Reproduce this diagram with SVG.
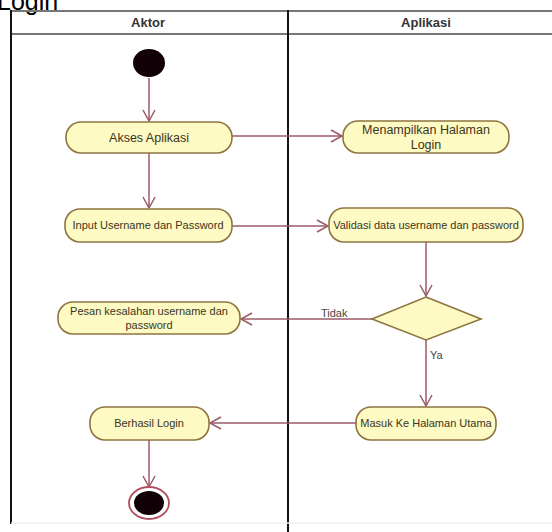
<svg xmlns="http://www.w3.org/2000/svg" width="552" height="532" viewBox="0 0 552 532">
<defs>
<style>
.node{fill:#fefac4;stroke:#8d7440;stroke-width:1.6}
.lbl{font-family:"Liberation Sans",Arial,sans-serif;font-size:11px;fill:#3b3520;text-anchor:middle}
.big{font-size:12.5px}
.hdr{font-family:"Liberation Sans",Arial,sans-serif;font-size:13px;font-weight:bold;fill:#333;text-anchor:middle}
.edge{fill:none;stroke:#9a5a68;stroke-width:1.5;marker-end:url(#arr)}
.frame{stroke:#777;stroke-width:2;fill:none}
</style>
<marker id="arr" markerWidth="14" markerHeight="14" refX="12" refY="7" orient="auto" markerUnits="userSpaceOnUse">
<path d="M1,1 L12,7 L1,13" fill="none" stroke="#9a5a68" stroke-width="1.5"/>
</marker>
</defs>
<rect width="552" height="532" fill="#fff"/>
<text x="-3" y="10" font-family="Liberation Sans,Arial,sans-serif" font-size="25" fill="#000">Login</text>
<g id="frame">
<line x1="11" y1="11" x2="552" y2="11" class="frame"/>
<line x1="11" y1="34" x2="552" y2="34" class="frame"/>
<line x1="11" y1="10" x2="11" y2="524" stroke="#111" stroke-width="2"/>
<line x1="288" y1="10" x2="288" y2="532" stroke="#111" stroke-width="2"/>
<line x1="11" y1="523" x2="552" y2="523" stroke="#eee" stroke-width="1.5"/>
<text x="148" y="27" class="hdr">Aktor</text>
<text x="426" y="27" class="hdr">Aplikasi</text>
</g>
<g id="connectors">
<line x1="149" y1="78" x2="149" y2="121" class="edge"/>
<line x1="232" y1="136" x2="342" y2="136" class="edge"/>
<line x1="149" y1="153" x2="149" y2="208" class="edge"/>
<line x1="232" y1="226" x2="328" y2="226" class="edge"/>
<line x1="426" y1="242" x2="426" y2="296" class="edge"/>
<line x1="372" y1="319" x2="241" y2="319" class="edge"/>
<line x1="426" y1="340" x2="426" y2="406" class="edge"/>
<line x1="356" y1="423" x2="210" y2="423" class="edge"/>
<line x1="149" y1="440" x2="149" y2="487" class="edge"/>
<text x="321" y="317" font-family="Liberation Sans,Arial,sans-serif" font-size="11" fill="#444">Tidak</text>
<text x="430" y="359" font-family="Liberation Sans,Arial,sans-serif" font-size="11" fill="#444">Ya</text>
</g>
<g id="start"><ellipse cx="149" cy="63" rx="16" ry="14" fill="#110005"/></g>
<g id="akses"><rect x="66" y="122" width="166" height="31" rx="15" class="node"/><text x="149" y="142" class="lbl big">Akses Aplikasi</text></g>
<g id="menampilkan"><rect x="343" y="121" width="166" height="32" rx="15" class="node"/><text x="426" y="134" class="lbl big">Menampilkan Halaman</text><text x="426" y="149" class="lbl big">Login</text></g>
<g id="input"><rect x="65" y="209" width="167" height="33" rx="15" class="node"/><text x="148" y="229" class="lbl">Input Username dan Password</text></g>
<g id="validasi"><rect x="329" y="208" width="194" height="34" rx="15" class="node"/><text x="426" y="229" class="lbl">Validasi data username dan password</text></g>
<g id="decision"><polygon points="426,297 481,319 426,340 372,319" class="node"/></g>
<g id="pesan"><rect x="58" y="302" width="182" height="32" rx="15" class="node"/><text x="149" y="315" class="lbl">Pesan kesalahan username dan</text><text x="149" y="329" class="lbl">password</text></g>
<g id="masuk"><rect x="356" y="407" width="140" height="33" rx="15" class="node"/><text x="426" y="427" class="lbl">Masuk Ke Halaman Utama</text></g>
<g id="berhasil"><rect x="90" y="407" width="119" height="33" rx="15" class="node"/><text x="149" y="427" class="lbl">Berhasil Login</text></g>
<g id="end"><ellipse cx="149" cy="503" rx="20" ry="16" fill="#fff" stroke="#b05060" stroke-width="1.8"/><ellipse cx="149" cy="503" rx="15" ry="12" fill="#110005"/></g>
</svg>
